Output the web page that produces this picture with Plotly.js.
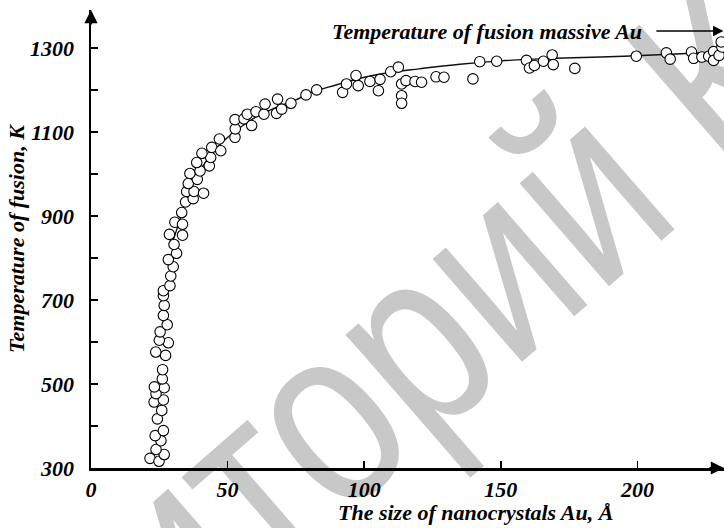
<!DOCTYPE html>
<html>
<head>
<meta charset="utf-8">
<script src="https://cdn.plot.ly/plotly-3.0.1.min.js"></script>
<style>
  html, body { margin: 0; padding: 0; background: #ffffff; }
  #wrap { position: relative; width: 724px; height: 528px; overflow: hidden; }
  #wm { position: absolute; left: 408px; top: 343px;
        transform: translate(-50%, -50%) rotate(-41deg) scaleX(0.8);
        white-space: nowrap; font-family: "Liberation Sans", Arial, sans-serif; font-size: 258px;
        color: #c8c8c8; z-index: 0; line-height: 1; }
  #chart { position: absolute; left: 0; top: 0; width: 724px; height: 528px; z-index: 1; }
</style>
</head>
<body>
<div id="wrap">
  <div id="wm">Репозиторий КарГУ</div>
  <div id="chart"></div>
</div>
<script>
// Measured points: nanocrystal size (Å) and fusion temperature (K)
const sizeA = [
  21.6, 24.9, 26.8, 23.8, 25.6, 23.5, 26.5, 24.3, 25.9, 23.1, 26.5, 23.8, 26.8, 23.2, 26.1, 26.2,
  27.3, 23.7, 28.3, 25.0, 25.3, 27.9, 26.5, 26.8, 26.5, 26.5, 28.9, 29.2, 30.1,
  28.3, 31.3, 30.4, 28.7, 33.5, 30.7, 33.5, 33.2, 34.6, 37.4, 35.0, 37.7, 41.2, 35.6, 38.9, 36.2,
  39.9, 43.3, 38.7, 43.8, 40.6, 44.2, 47.5, 47.0, 52.7, 52.8, 52.7, 56.0, 58.8, 57.2, 60.4, 63.3,
  63.7, 67.9, 69.8, 68.3, 73.2, 78.7, 82.6, 92.1, 93.5, 97.0, 97.8,
  102.1, 105.2, 105.8, 109.7, 112.5, 113.7, 113.7, 113.7, 115.3, 118.6, 121.0, 126.3, 129.2, 139.8,
  142.3, 148.5, 159.4, 160.5, 162.3, 165.6, 168.8, 169.2, 177.1, 199.6, 210.6, 212.0, 219.8, 220.6,
  223.6, 226.1, 227.9, 227.9, 229.9, 230.9, 230.7
];
const tempK = [
  323, 316, 332, 344, 365, 377, 389, 417, 437, 457, 462, 477, 491, 493, 512, 534,
  568, 576, 598, 604, 624, 641, 663, 687, 710, 722, 734, 757, 779,
  796, 811, 832, 856, 854, 885, 880, 908, 933, 941, 958, 958, 954, 977, 987, 1001,
  1007, 1019, 1027, 1039, 1049, 1063, 1055, 1083, 1087, 1107, 1129, 1131, 1115, 1142, 1148, 1142,
  1166, 1144, 1154, 1178, 1168, 1188, 1200, 1194, 1214, 1234, 1210,
  1220, 1198, 1225, 1243, 1254, 1214, 1186, 1168, 1222, 1220, 1218, 1231, 1230, 1226,
  1267, 1268, 1270, 1252, 1258, 1268, 1283, 1260, 1251, 1280, 1288, 1273, 1290, 1275,
  1278, 1280, 1291, 1270, 1282, 1302, 1314
];
// Fitted curve
const fitSize = [30, 33, 36, 40, 44, 48, 52, 56, 60, 65, 70, 75, 80, 90, 100, 110, 120, 135, 150, 170, 195, 220, 232];
const fitTemp = [840, 900, 960, 1010, 1045, 1075, 1097, 1117, 1134, 1150, 1164, 1176, 1193, 1212, 1230, 1242, 1250, 1261, 1269, 1275, 1280, 1287, 1290];

const xTicks = [0, 50, 100, 150, 200];
const yTicks = [300, 400, 500, 600, 700, 800, 900, 1000, 1100, 1200, 1300];
const yTickText = ['300', '', '500', '', '700', '', '900', '', '1100', '', '1300'];

const serifBI = { family: '"Liberation Serif", "Times New Roman", serif', size: 22, color: '#000', weight: 'bold', style: 'italic' };

const traces = [
  { x: fitSize, y: fitTemp, mode: 'lines', type: 'scatter', line: { color: '#111', width: 1.4, shape: 'spline' }, hoverinfo: 'skip' },
  { x: sizeA, y: tempK, mode: 'markers', type: 'scatter',
    marker: { symbol: 'circle', size: 10.5, color: '#ffffff', line: { color: '#000', width: 1.1 } } }
];

const layout = {
  width: 724, height: 528,
  margin: { l: 91, r: 0, t: 10, b: 60 },
  paper_bgcolor: 'rgba(0,0,0,0)', plot_bgcolor: 'rgba(0,0,0,0)',
  showlegend: false,
  font: serifBI,
  xaxis: {
    range: [0, 231.7], showgrid: false, zeroline: false,
    showline: true, linecolor: '#000', linewidth: 2.5,
    ticks: 'inside', ticklen: 7, tickwidth: 1.5, tickcolor: '#000',
    tickvals: xTicks, ticktext: xTicks.map(String), tickfont: serifBI
  },
  yaxis: {
    range: [300, 1390], showgrid: false, zeroline: false,
    showline: true, linecolor: '#000', linewidth: 2.5,
    ticks: 'inside', ticklen: 7, tickwidth: 1.5, tickcolor: '#000',
    tickvals: yTicks, ticktext: yTickText, tickfont: serifBI, ticklabelstandoff: 10,
    title: { text: 'Temperature of fusion, K', font: serifBI, standoff: 0 }
  },
  annotations: [
    { x: 0.608, y: -0.098, xref: 'paper', yref: 'paper', xanchor: 'center', yanchor: 'middle',
      text: 'The size of nanocrystals Au, Å', showarrow: false, font: serifBI },
    { x: 145.1, y: 1340, xref: 'x', yref: 'y', text: 'Temperature of fusion massive Au', showarrow: false,
      font: serifBI },
    { x: 231.5, y: 1340, xref: 'x', yref: 'y', ax: 206.4, ay: 1340, axref: 'x', ayref: 'y', text: '',
      showarrow: true, arrowhead: 2, arrowsize: 1.3, arrowwidth: 1.6, arrowcolor: '#000' },
    { x: 0, y: 1390, xref: 'x', yref: 'y', ax: 0, ay: 16, text: '', showarrow: true,
      arrowhead: 2, arrowsize: 1.2, arrowwidth: 2.2, arrowcolor: '#000' },
    { x: 231.7, y: 300, xref: 'x', yref: 'y', ax: -16, ay: 0, text: '', showarrow: true,
      arrowhead: 2, arrowsize: 1.2, arrowwidth: 2.2, arrowcolor: '#000' }
  ]
};

Plotly.newPlot('chart', traces, layout, { staticPlot: true, displayModeBar: false });
</script>
</body>
</html>
